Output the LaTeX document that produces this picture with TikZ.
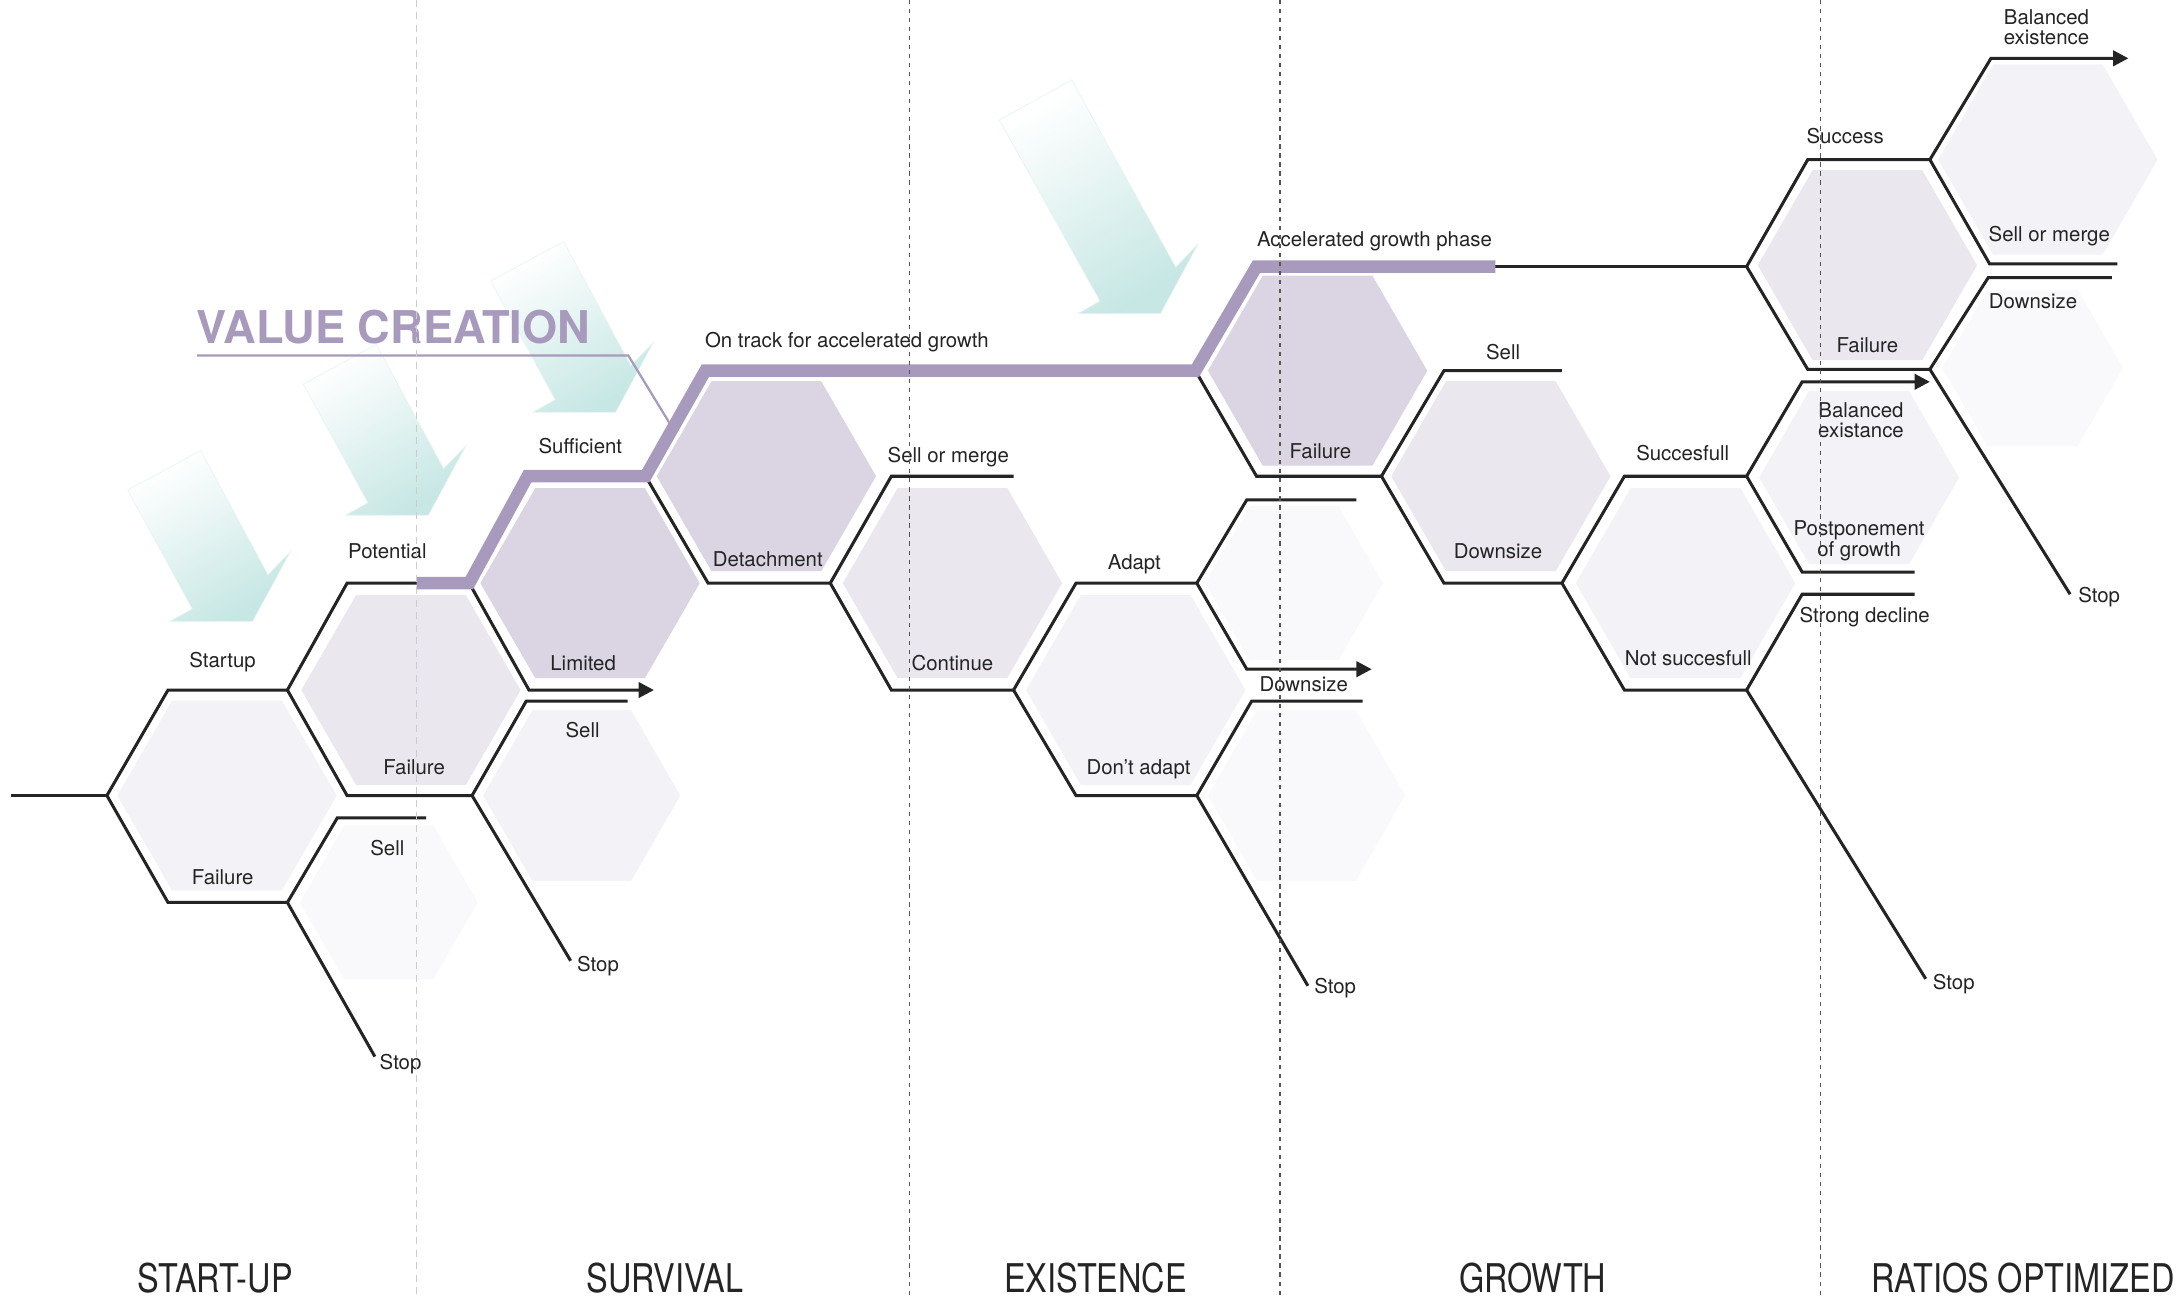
\documentclass[tikz,border=0pt]{standalone}
\usepackage{fontspec}
\setmainfont{TeX Gyre Heros}
\usepackage{graphicx}
\usetikzlibrary{arrows.meta}
\definecolor{ink}{HTML}{242424}
\definecolor{purp}{HTML}{A89ABC}
\definecolor{hexP}{HTML}{DBD5E3}
\definecolor{hexM}{HTML}{EAE8EE}
\definecolor{hexL}{HTML}{F3F2F6}
\definecolor{hexV}{HTML}{F9F9FB}
\definecolor{tealc}{HTML}{C6E7E4}
\definecolor{divlc}{HTML}{CCCCCC}
\definecolor{divdc}{HTML}{555555}
\newcommand\hexat[4]{\fill[#4] (#1,#2) +(0:#3) -- +(60:#3) -- +(120:#3) -- +(180:#3) -- +(240:#3) -- +(300:#3) -- cycle;}
\begin{document}
\begin{tikzpicture}[x=1pt,y=-1pt,
  ln/.style={draw=ink, line width=2.2pt, line join=miter},
  arr/.style={ln, -{Triangle[length=11pt,width=11pt]}},
  pline/.style={draw=purp, line width=9pt, line join=miter},
  uline/.style={draw=purp, line width=1.6pt},
  lbl/.style={inner sep=0pt, anchor=base, text=ink, font=\fontsize{14.7}{14}\selectfont},
  stoplbl/.style={lbl, anchor=base west},
  phase/.style={inner sep=0pt, anchor=base, text=ink, font=\fontsize{28.5}{30}\selectfont},
  tarrowst/.style={top color=white, bottom color=tealc, shading angle=30, draw=tealc!45!white, line width=0.4pt},
  divl/.style={draw=divlc, line width=1pt, dash pattern=on 5pt off 4pt},
  divd/.style={draw=divdc, line width=0.9pt, dash pattern=on 3pt off 3.5pt}]
\useasboundingbox (0,0) rectangle (1568,935);
\fill[white] (0,0) rectangle (1568,935);

% teal arrows
\foreach \ax/\ay in {92/353, 218.5/276.6, 353.4/202.4}{
  \begin{scope}[shift={(\ax,\ay)}]
    \shade[tarrowst] (0,0) -- (52.5,-28.5) -- (101,61) -- (117,44.5) -- (90,94.5) -- (30.5,94.5) -- (46.5,85.5) -- cycle;
  \end{scope}}
\begin{scope}[shift={(719.8,86.4)}]
  \shade[tarrowst] (0,0) -- (52,-28.8) -- (127,106) -- (143,89.5) -- (116,139.5) -- (56.5,139.5) -- (72.5,130.5) -- cycle;
\end{scope}

% hexagon fills
\hexat{163.5}{573}{79}{hexL}
\hexat{280}{650}{64}{hexV}
\hexat{296}{497}{79}{hexM}
\hexat{425}{420}{79}{hexP}
\hexat{419}{573}{71}{hexL}
\hexat{552}{343}{79}{hexP}
\hexat{686}{420}{79}{hexM}
\hexat{818}{497}{79}{hexL}
\hexat{932}{420}{64}{hexV}
\hexat{941}{573}{71}{hexV}
\hexat{949}{267}{79}{hexP}
\hexat{1081}{343}{79}{hexM}
\hexat{1214}{420}{79}{hexL}
\hexat{1339}{344}{72}{hexL}
\hexat{1345}{191}{79}{hexM}
\hexat{1475}{115}{79}{hexL}
\hexat{1464}{265}{65}{hexV}

% junction coordinates
\coordinate (E0) at (8,573);
\coordinate (J0) at (77,573);
\coordinate (J1) at (207,497);
\coordinate (J2) at (207,650);
\coordinate (J3) at (338,420);
\coordinate (J4) at (340,573);
\coordinate (J5) at (465,343);
\coordinate (J6) at (598,420);
\coordinate (J7) at (730,497);
\coordinate (J8) at (862,420);
\coordinate (J9) at (862,573);
\coordinate (J10) at (861,267);
\coordinate (J11) at (995,343);
\coordinate (J12) at (1125,420);
\coordinate (J13) at (1258,343);
\coordinate (J14) at (1258,497);
\coordinate (J15) at (1258,192);
\coordinate (J16) at (1390,115);
\coordinate (J17) at (1390,266);
\coordinate (P0) at (300,420);
\coordinate (P1) at (1077,192);
% free ends
\coordinate (T1) at (307,589);
\coordinate (S1) at (270,761);
\coordinate (A1) at (471,497);
\coordinate (T2) at (452,505);
\coordinate (S2) at (411,692);
\coordinate (T3) at (730,343);
\coordinate (T4) at (977,360);
\coordinate (A2) at (988,482);
\coordinate (T5) at (981.5,505);
\coordinate (S3) at (942,710);
\coordinate (T6) at (1125,267);
\coordinate (A3) at (1390,275);
\coordinate (T7) at (1379,412);
\coordinate (T8) at (1379,428);
\coordinate (S4) at (1387,705);
\coordinate (A4) at (1533,42);
\coordinate (T9) at (1525,190);
\coordinate (T10) at (1521,200);
\coordinate (S5) at (1491,428);
\coordinate (U0) at (142,256);
\coordinate (U1) at (452.5,256);
\coordinate (U2) at (483,306);

% black paths
\draw[ln] (E0) -- (J0);
\draw[ln] (J0) -- ++(44,-76) -- (J1);
\draw[ln] (J0) -- ++(44,77) -- (J2);
\draw[ln] (J1) -- ++(43,-77) -- (J3);
\draw[ln] (J1) -- ++(43,76) -- (J4);
\draw[ln] (J2) -- ++(36,-61) -- (T1);
\draw[ln] (J2) -- (S1);
\draw[arr] (J3) -- ++(43,77) -- (A1);
\draw[ln] (J4) -- ++(39,-68) -- (T2);
\draw[ln] (J4) -- (S2);
\draw[ln] (J5) -- ++(45,77) -- (J6);
\draw[ln] (J6) -- ++(44,-77) -- (T3);
\draw[ln] (J6) -- ++(44,77) -- (J7);
\draw[ln] (J7) -- ++(45,-77) -- (J8);
\draw[ln] (J7) -- ++(45,76) -- (J9);
\draw[ln] (J8) -- ++(36,-60) -- (T4);
\draw[arr] (J8) -- ++(36,62) -- (A2);
\draw[ln] (J9) -- ++(39.5,-68) -- (T5);
\draw[ln] (J9) -- (S3);
\draw[ln] (J10) -- ++(44,76) -- (J11);
\draw[ln] (P1) -- (J15);
\draw[ln] (J11) -- ++(45,-76) -- (T6);
\draw[ln] (J11) -- ++(45,77) -- (J12);
\draw[ln] (J12) -- ++(45,-77) -- (J13);
\draw[ln] (J12) -- ++(45,77) -- (J14);
\draw[arr] (J13) -- ++(40,-68) -- (A3);
\draw[ln] (J13) -- ++(40,69) -- (T7);
\draw[ln] (J14) -- ++(40,-69) -- (T8);
\draw[ln] (J14) -- (S4);
\draw[ln] (J15) -- ++(44,-77) -- (J16);
\draw[ln] (J15) -- ++(44,74) -- (J17);
\draw[arr] (J16) -- ++(44,-73) -- (A4);
\draw[ln] (J16) -- ++(43,75) -- (T9);
\draw[ln] (J17) -- ++(42,-66) -- (T10);
\draw[ln] (J17) -- (S5);

% value creation path
\draw[pline] (P0) -- (J3) -- ++(42,-77) -- (J5) -- ++(43,-76) -- (J10) -- ++(44,-75) -- (P1);
\draw[uline] (U0) -- (U1) -- (U2);
\node[inner sep=0pt, anchor=base west, text=purp, font=\fontsize{32.5}{34}\selectfont\bfseries] (vc) at (141.5,247.3) {VALUE CREATION};

% labels
\node[lbl] (l1) at (160.3,481) {Startup};
\node[lbl] (l2) at (160.4,637) {Failure};
\node[lbl] (l3) at (279,402) {Potential};
\node[lbl] (l4) at (298.3,558) {Failure};
\node[lbl] (l5) at (279,616) {Sell};
\node[stoplbl] (l6) at (273.3,770) {Stop};
\node[lbl] (l7) at (418,326.7) {Sufficient};
\node[lbl] (l8) at (420,483) {Limited};
\node[lbl] (l9) at (419.6,531) {Sell};
\node[stoplbl] (l10) at (415.5,700) {Stop};
\node[lbl] (l12) at (610,250) {On track for accelerated growth};
\node[lbl] (l13) at (553,408) {Detachment};
\node[lbl] (l14) at (683,333) {Sell or merge};
\node[lbl] (l15) at (686,483) {Continue};
\node[lbl] (l16) at (817,410) {Adapt};
\node[lbl] (l17) at (820,558) {Don’t adapt};
\node[lbl] (l18) at (939,498) {Downsize};
\node[stoplbl] (l19) at (946.4,715.5) {Stop};
\node[lbl] (l20) at (990,177.5) {Accelerated growth phase};
\node[lbl] (l21) at (951,330) {Failure};
\node[lbl] (l22) at (1082.6,258.6) {Sell};
\node[lbl] (l23) at (1079,402.6) {Downsize};
\node[lbl] (l24) at (1212,332) {Succesfull};
\node[lbl] (l25) at (1216,479) {Not succesfull};
\node[stoplbl] (l26) at (1392,713) {Stop};
\node[lbl] (l27) at (1329,103.5) {Success};
\node[lbl] (l28) at (1345,254) {Failure};
\node[lbl] (l29) at (1474,17.7) {\begin{tabular}[t]{@{}c@{}}Balanced\\existence\end{tabular}};
\node[lbl] (l30) at (1476,173.6) {Sell or merge};
\node[lbl] (l31) at (1464.3,221.9) {Downsize};
\node[lbl] (l32) at (1340.4,300.6) {\begin{tabular}[t]{@{}c@{}}Balanced\\existance\end{tabular}};
\node[lbl] (l33) at (1339,385.8) {\begin{tabular}[t]{@{}c@{}}Postponement\\of growth\end{tabular}};
\node[lbl] (l34) at (1343,448.6) {Strong decline};
\node[stoplbl] (l35) at (1496.7,434) {Stop};

% phase labels
\node[phase] (ph1) at (155,931) {\scalebox{0.82}[1]{START-UP}};
\node[phase] (ph2) at (479,931) {\scalebox{0.82}[1]{SURVIVAL}};
\node[phase] (ph3) at (789,931) {\scalebox{0.82}[1]{EXISTENCE}};
\node[phase] (ph4) at (1104,931) {\scalebox{0.82}[1]{GROWTH}};
\node[phase] (ph5) at (1457,931) {\scalebox{0.82}[1]{RATIOS OPTIMIZED}};

% dividers
\draw[divl] (300,0) -- (300,935);
\draw[divd] (655,0) -- (655,935);
\draw[divd] (922,0) -- (922,935);
\draw[divd] (1311,0) -- (1311,935);
\end{tikzpicture}
\end{document}
